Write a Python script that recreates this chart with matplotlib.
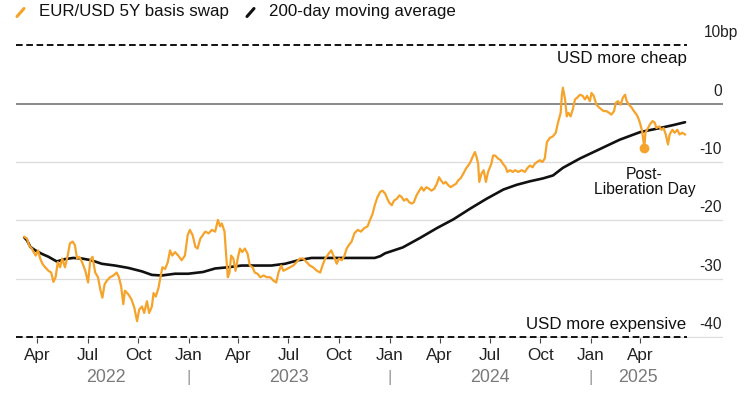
import numpy as np
import pandas as pd
import matplotlib
matplotlib.use("Agg")
import matplotlib.pyplot as plt
from matplotlib.lines import Line2D
import matplotlib.transforms as mtransforms

plt.rcParams['font.family'] = ['Liberation Sans', 'DejaVu Sans']
plt.rcParams['lines.scale_dashes'] = False

# EUR/USD 5Y basis swap, bp
swap_dates = [
    "2022-03-08", "2022-03-13", "2022-03-17", "2022-03-22", "2022-03-25", "2022-03-29",
    "2022-04-02", "2022-04-06", "2022-04-10", "2022-04-15", "2022-04-21", "2022-04-26",
    "2022-04-30", "2022-05-04", "2022-05-08", "2022-05-12", "2022-05-16", "2022-05-21",
    "2022-05-26", "2022-05-30", "2022-06-04", "2022-06-08", "2022-06-12", "2022-06-16",
    "2022-06-21", "2022-06-27", "2022-07-02", "2022-07-06", "2022-07-10", "2022-07-15",
    "2022-07-20", "2022-07-24", "2022-07-28", "2022-08-01", "2022-08-05", "2022-08-11",
    "2022-08-17", "2022-08-23", "2022-08-27", "2022-08-31", "2022-09-04", "2022-09-07",
    "2022-09-13", "2022-09-19", "2022-09-24", "2022-09-29", "2022-10-03", "2022-10-08",
    "2022-10-12", "2022-10-17", "2022-10-21", "2022-10-26", "2022-10-29", "2022-11-02",
    "2022-11-07", "2022-11-10", "2022-11-14", "2022-11-19", "2022-11-24", "2022-11-28",
    "2022-12-02", "2022-12-07", "2022-12-13", "2022-12-19", "2022-12-25", "2022-12-30",
    "2023-01-03", "2023-01-08", "2023-01-13", "2023-01-17", "2023-01-22", "2023-01-31",
    "2023-02-06", "2023-02-12", "2023-02-18", "2023-02-23", "2023-02-27", "2023-03-02",
    "2023-03-07", "2023-03-10", "2023-03-13", "2023-03-16", "2023-03-19", "2023-03-23",
    "2023-03-27", "2023-03-31", "2023-04-04", "2023-04-08", "2023-04-13", "2023-04-18",
    "2023-04-22", "2023-04-27", "2023-05-01", "2023-05-06", "2023-05-11", "2023-05-17",
    "2023-05-23", "2023-05-29", "2023-06-04", "2023-06-09", "2023-06-13", "2023-06-18",
    "2023-06-22", "2023-06-28", "2023-07-04", "2023-07-10", "2023-07-16", "2023-07-22",
    "2023-07-28", "2023-08-03", "2023-08-09", "2023-08-15", "2023-08-22", "2023-08-28",
    "2023-09-01", "2023-09-06", "2023-09-12", "2023-09-17", "2023-09-21", "2023-09-27",
    "2023-10-01", "2023-10-06", "2023-10-11", "2023-10-15", "2023-10-19", "2023-10-24",
    "2023-10-29", "2023-11-04", "2023-11-10", "2023-11-16", "2023-11-22", "2023-11-26",
    "2023-12-01", "2023-12-05", "2023-12-10", "2023-12-15", "2023-12-19", "2023-12-24",
    "2023-12-28", "2023-12-31", "2024-01-05", "2024-01-09", "2024-01-14", "2024-01-19",
    "2024-01-23", "2024-01-27", "2024-02-01", "2024-02-06", "2024-02-10", "2024-02-14",
    "2024-02-19", "2024-02-24", "2024-02-28", "2024-03-03", "2024-03-08", "2024-03-13",
    "2024-03-17", "2024-03-22", "2024-03-27", "2024-03-31", "2024-04-03", "2024-04-08",
    "2024-04-12", "2024-04-17", "2024-04-21", "2024-04-26", "2024-05-01", "2024-05-05",
    "2024-05-09", "2024-05-14", "2024-05-19", "2024-05-23", "2024-05-27", "2024-05-31",
    "2024-06-04", "2024-06-07", "2024-06-10", "2024-06-12", "2024-06-16", "2024-06-20",
    "2024-06-24", "2024-06-28", "2024-07-04", "2024-07-07", "2024-07-11", "2024-07-16",
    "2024-07-21", "2024-07-25", "2024-07-30", "2024-08-02", "2024-08-07", "2024-08-12",
    "2024-08-16", "2024-08-22", "2024-08-28", "2024-09-03", "2024-09-07", "2024-09-12",
    "2024-09-17", "2024-09-21", "2024-09-25", "2024-09-30", "2024-10-05", "2024-10-09",
    "2024-10-13", "2024-10-18", "2024-10-24", "2024-10-29", "2024-11-02", "2024-11-07",
    "2024-11-09", "2024-11-11", "2024-11-15", "2024-11-18", "2024-11-21", "2024-11-25",
    "2024-11-29", "2024-12-03", "2024-12-07", "2024-12-12", "2024-12-17", "2024-12-21",
    "2024-12-25", "2024-12-30", "2025-01-02", "2025-01-06", "2025-01-11", "2025-01-16",
    "2025-01-20", "2025-01-24", "2025-01-29", "2025-02-03", "2025-02-07", "2025-02-12",
    "2025-02-15", "2025-02-19", "2025-02-24", "2025-02-28", "2025-03-04", "2025-03-07",
    "2025-03-11", "2025-03-16", "2025-03-20", "2025-03-25", "2025-03-28", "2025-03-31",
    "2025-04-04", "2025-04-08", "2025-04-10", "2025-04-13", "2025-04-18", "2025-04-23",
    "2025-04-27", "2025-04-30", "2025-05-05", "2025-05-09", "2025-05-13", "2025-05-17",
    "2025-05-21", "2025-05-24", "2025-05-29", "2025-06-02", "2025-06-07", "2025-06-11",
    "2025-06-16", "2025-06-21",
]
swap_bp = [
    -22.8, -23.1, -24.3, -24.8, -25.4, -26.0,
    -25.1, -26.5, -27.4, -28.0, -28.6, -28.9,
    -30.5, -29.7, -27.1, -28.0, -26.5, -28.0,
    -26.0, -23.9, -23.6, -24.2, -26.5, -26.2,
    -27.1, -28.6, -30.6, -26.8, -26.2, -28.9,
    -29.7, -31.7, -33.2, -30.9, -30.3, -29.7,
    -29.4, -28.9, -29.7, -31.2, -34.3, -32.0,
    -32.6, -33.5, -34.9, -37.2, -35.2, -34.7,
    -35.8, -33.8, -35.8, -34.7, -32.4, -33.0,
    -31.5, -30.0, -28.0, -28.3, -27.1, -25.1,
    -26.0, -25.4, -26.0, -26.8, -26.0, -22.5,
    -21.6, -22.5, -24.5, -24.8, -23.1, -21.9,
    -22.2, -21.6, -21.9, -19.9, -21.0, -20.5,
    -21.9, -26.0, -29.7, -28.9, -26.0, -26.5,
    -28.6, -26.5, -24.8, -25.4, -24.8, -25.7,
    -27.7, -28.0, -28.9, -29.1, -29.7, -29.4,
    -29.7, -29.7, -30.3, -30.6, -28.9, -27.7,
    -28.6, -28.3, -28.0, -27.7, -27.1, -26.5,
    -26.5, -27.1, -27.7, -28.0, -28.6, -28.9,
    -27.7, -26.5, -25.7, -25.1, -26.0, -27.4,
    -26.5, -26.8, -26.0, -24.8, -24.2, -23.6,
    -22.2, -21.6, -21.9, -21.3, -21.0, -20.0,
    -18.9, -17.4, -16.0, -15.1, -14.9, -15.4,
    -16.3, -16.9, -17.4, -16.6, -16.3, -15.7,
    -16.0, -16.6, -16.3, -16.9, -17.1, -16.9,
    -15.7, -14.9, -14.3, -14.9, -14.3, -14.6,
    -14.9, -14.6, -13.7, -12.6, -13.1, -13.7,
    -13.4, -14.0, -14.3, -14.0, -13.7, -13.1,
    -12.8, -12.0, -11.1, -10.6, -10.0, -9.1,
    -8.3, -9.1, -10.3, -13.4, -12.0, -11.4,
    -13.4, -11.7, -10.3, -8.9, -8.9, -9.4,
    -9.7, -10.3, -10.9, -11.7, -11.4, -11.7,
    -11.4, -11.7, -11.4, -11.7, -11.1, -10.6,
    -10.9, -10.3, -10.0, -9.7, -10.0, -9.4,
    -6.6, -5.9, -5.6, -5.0, -3.3, -1.6,
    1.3, 2.7, 0.7, -2.2, -1.6, -2.2,
    -1.0, 0.7, 1.0, 1.5, 1.3, 0.7,
    1.3, 0.4, 1.8, 1.3, -0.2, -0.7,
    -1.0, -1.3, -1.3, -1.6, -1.9, -1.3,
    0.1, 0.4, -0.2, 1.0, 1.5, 0.4,
    -0.2, -0.7, -1.3, -1.9, -2.5, -3.3,
    -4.7, -7.6, -5.0, -4.5, -3.6, -3.0,
    -3.3, -4.2, -3.9, -4.5, -4.2, -5.3,
    -7.0, -5.3, -4.5, -5.0, -4.5, -5.3,
    -5.0, -5.3,
]

# 200-day moving average, bp
ma_dates = [
    "2022-03-08", "2022-03-13", "2022-03-19", "2022-03-28", "2022-04-09", "2022-04-21",
    "2022-05-06", "2022-05-21", "2022-06-05", "2022-06-21", "2022-07-08", "2022-07-27",
    "2022-08-20", "2022-09-13", "2022-10-08", "2022-10-26", "2022-11-13", "2022-12-07",
    "2022-12-31", "2023-01-27", "2023-02-18", "2023-03-13", "2023-04-07", "2023-05-01",
    "2023-05-31", "2023-06-25", "2023-07-19", "2023-08-12", "2023-09-12", "2023-10-12",
    "2023-11-11", "2023-12-05", "2023-12-15", "2023-12-24", "2024-01-25", "2024-02-25",
    "2024-03-27", "2024-04-26", "2024-05-26", "2024-06-25", "2024-07-26", "2024-08-19",
    "2024-09-12", "2024-10-06", "2024-10-24", "2024-11-11", "2024-12-12", "2025-01-17",
    "2025-02-22", "2025-03-31", "2025-05-06", "2025-05-30", "2025-06-21",
]
ma_bp = [
    -22.9, -23.4, -24.5, -25.1, -25.7, -26.2,
    -27.0, -26.6, -26.4, -26.5, -26.8, -27.4,
    -27.7, -28.1, -28.7, -29.3, -29.4, -29.1,
    -29.1, -28.8, -28.2, -28.0, -27.7, -27.7,
    -27.7, -27.4, -26.8, -26.4, -26.4, -26.4,
    -26.4, -26.4, -26.1, -25.6, -24.6, -23.0,
    -21.3, -19.8, -18.0, -16.3, -14.7, -13.9,
    -13.3, -12.8, -12.3, -11.0, -9.4, -7.8,
    -6.2, -4.9, -4.2, -3.7, -3.2,
]

libday_date = "2025-04-08"
libday_bp = -7.6

tick_dates = ["2022-04-01", "2022-07-01", "2022-10-01", "2023-01-01", "2023-04-01",
              "2023-07-01", "2023-10-01", "2024-01-01", "2024-04-01", "2024-07-01",
              "2024-10-01", "2025-01-01", "2025-04-01"]
tick_labels = ["Apr", "Jul", "Oct", "Jan", "Apr", "Jul", "Oct", "Jan", "Apr", "Jul",
               "Oct", "Jan", "Apr"]
years = [2022, 2023, 2024, 2025]
level_ticks = [0, -10, -20, -30, -40]

ORANGE = "#F5A32A"
W, H = 748, 393

swap_dates = pd.to_datetime(swap_dates)
ma_dates = pd.to_datetime(ma_dates)
tick_dates = pd.to_datetime(tick_dates)
x_end_band = pd.Timestamp("2025-06-24")

fig = plt.figure(figsize=(W / 100, H / 100), dpi=100)
ax = fig.add_axes([16 / W, (H - 337.5) / H, 707 / W, 292.5 / H])
ax.set_xlim(pd.Timestamp("2022-02-21"), pd.Timestamp("2025-08-29"))
ax.set_ylim(-40, 10)

for v in [-10, -20, -30, -40]:
    ax.axhline(v, color="#dddddd", lw=0.9, zorder=1)
ax.axhline(0, color="#6b6b6b", lw=1.1, zorder=1)
ax.hlines([10, -40], ax.get_xlim()[0], x_end_band, colors="#111111", lw=1.4,
          linestyles=(0, (4.8, 2.6)), zorder=2, clip_on=False)

ax.plot(ma_dates, ma_bp, color="#111111", lw=1.9, zorder=3, solid_capstyle="round")
ax.plot(swap_dates, swap_bp, color=ORANGE, lw=1.6, zorder=4, solid_joinstyle="round")
ax.plot([pd.Timestamp(libday_date)], [libday_bp], "o", color=ORANGE, ms=6, zorder=5)

for s in ax.spines.values():
    s.set_visible(False)
ax.set_yticks([])
ax.set_xticks(tick_dates)
ax.set_xticklabels(tick_labels)
ax.tick_params(axis="x", length=3.5, width=0.8, color="#444444", pad=4,
               labelsize=12.3, labelcolor="#222222")

# right-hand level labels
for v in level_ticks:
    ax.annotate("%d" % v, xy=(1, v), xycoords=("axes fraction", "data"),
                xytext=(-1, 9), textcoords="offset points", ha="right", va="center",
                fontsize=11.2, color="#222222")
ax.annotate("10bp", xy=(1, 10), xycoords=("axes fraction", "data"),
            xytext=(-13.5, 9), textcoords="offset points", ha="left", va="center",
            fontsize=11.2, color="#222222")

ax.annotate("USD more cheap", xy=(x_end_band, 10), xytext=(0, -9.5),
            textcoords="offset points", ha="right", va="center", fontsize=12.2,
            color="#111111")
ax.annotate("USD more expensive", xy=(x_end_band, -40), xytext=(0, 9),
            textcoords="offset points", ha="right", va="center", fontsize=12.2,
            color="#111111")
ax.annotate("Post-\nLiberation Day", xy=(pd.Timestamp(libday_date), libday_bp),
            xytext=(0, -14), textcoords="offset points", ha="center", va="top",
            fontsize=11.3, linespacing=1.0, color="#111111")

# year labels under the month ticks
trans = mtransforms.blended_transform_factory(ax.transData, ax.transAxes)
first, last = swap_dates.min(), swap_dates.max()
for yr in years:
    a = max(first, pd.Timestamp(f"{yr}-01-01"))
    b = min(last, pd.Timestamp(f"{yr}-12-31"))
    mid = a + (b - a) / 2
    ax.text(mid, -0.138, str(yr), transform=trans, ha="center", va="center",
            fontsize=12.8, color="#7a7a7a")
    if yr > years[0]:
        ax.text(pd.Timestamp(f"{yr}-01-01"), -0.138, "|", transform=trans,
                ha="center", va="center", fontsize=12, color="#9a9a9a")

# legend
def px(x, y):
    return x / W, 1 - y / H

for (x0, col, label) in [(17, ORANGE, "EUR/USD 5Y basis swap"),
                         (247, "#111111", "200-day moving average")]:
    (ax0, ay0), (ax1, ay1) = px(x0, 16.5), px(x0 + 7, 8.5)
    fig.add_artist(Line2D([ax0, ax1], [ay0, ay1], transform=fig.transFigure,
                          color=col, lw=2.2, solid_capstyle="round"))
    tx, ty = px(x0 + 22, 11.5)
    fig.text(tx, ty, label, ha="left", va="center", fontsize=12.2, color="#111111")

fig.savefig("out.png", dpi=100)
